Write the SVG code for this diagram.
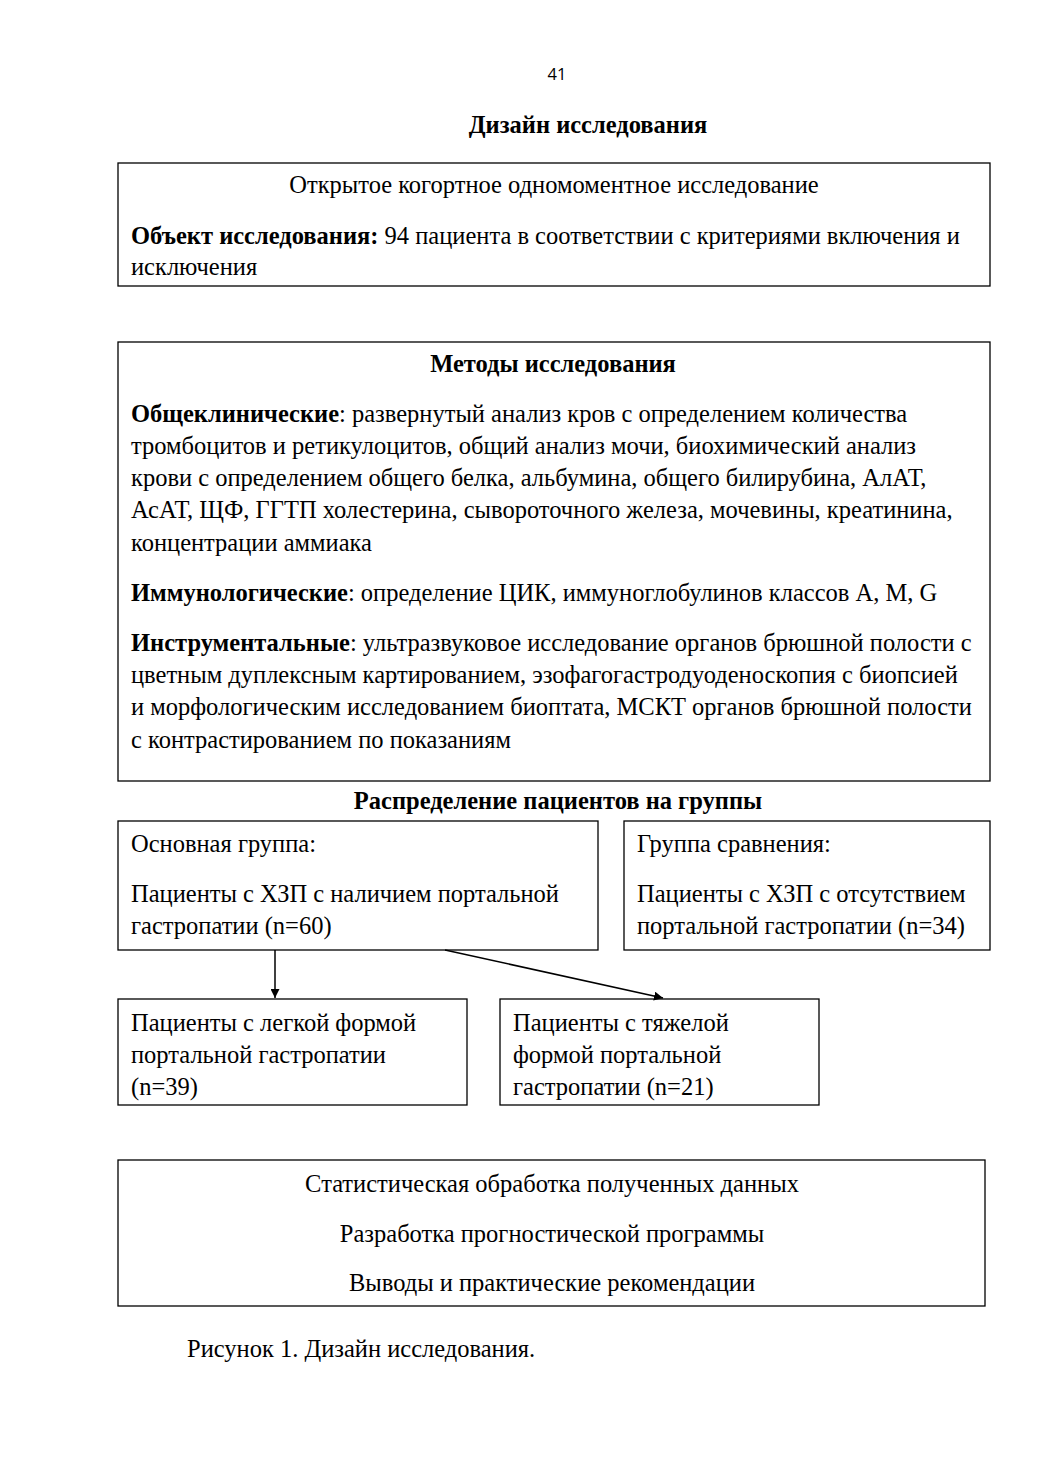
<svg xmlns="http://www.w3.org/2000/svg" width="1040" height="1471" viewBox="0 0 1040 1471">
<style>
.t{font-family:"Liberation Serif","Times New Roman",serif;font-size:24.5px;fill:#000}
.b{font-weight:bold}
.c{text-anchor:middle}
.box{fill:#fff;stroke:#000;stroke-width:1.3}
.ln{stroke:#000;stroke-width:1.5;fill:none}
</style>
<defs>
<marker id="ah" viewBox="0 0 10 10" refX="10" refY="5" markerWidth="9" markerHeight="9" markerUnits="userSpaceOnUse" orient="auto">
<path d="M0,0 L10,5 L0,10 z" fill="#000"/>
</marker>
</defs>
<rect width="1040" height="1471" fill="#fff"/>
<text x="557" y="80" font-family="Open Sans, sans-serif" font-size="16.5" text-anchor="middle">41</text>
<text class="t b c" x="588" y="133">Дизайн исследования</text>

<g id="study">
<rect class="box" x="118" y="163" width="872" height="123"/>
<text class="t c" x="554" y="193">Открытое когортное одномоментное исследование</text>
<text class="t" x="131" y="244"><tspan class="b">Объект исследования:</tspan> 94 пациента в соответствии с критериями включения и</text>
<text class="t" x="131" y="275">исключения</text>
</g>

<g id="methods">
<rect class="box" x="118" y="342" width="872" height="439"/>
<text class="t b c" x="553" y="372">Методы исследования</text>
<text class="t" x="131" y="422"><tspan class="b">Общеклинические</tspan>: развернутый анализ кров с определением количества</text>
<text class="t" x="131" y="454">тромбоцитов и ретикулоцитов, общий анализ мочи, биохимический анализ</text>
<text class="t" x="131" y="486">крови с определением общего белка, альбумина, общего билирубина, АлАТ,</text>
<text class="t" x="131" y="518">АсАТ, ЩФ, ГГТП холестерина, сывороточного железа, мочевины, креатинина,</text>
<text class="t" x="131" y="551">концентрации аммиака</text>
<text class="t" x="131" y="601"><tspan class="b">Иммунологические</tspan>: определение ЦИК, иммуноглобулинов классов А, М, G</text>
<text class="t" x="131" y="651"><tspan class="b">Инструментальные</tspan>: ультразвуковое исследование органов брюшной полости с</text>
<text class="t" x="131" y="683">цветным дуплексным картированием, эзофагогастродуоденоскопия с биопсией</text>
<text class="t" x="131" y="715">и морфологическим исследованием биоптата, МСКТ органов брюшной полости</text>
<text class="t" x="131" y="748">с контрастированием по показаниям</text>
</g>

<text class="t b c" x="558" y="809">Распределение пациентов на группы</text>

<g id="main-group">
<rect class="box" x="118" y="821" width="480" height="129"/>
<text class="t" x="131" y="852">Основная группа:</text>
<text class="t" x="131" y="902">Пациенты с ХЗП с наличием портальной</text>
<text class="t" x="131" y="934">гастропатии (n=60)</text>
</g>

<g id="comparison-group">
<rect class="box" x="624" y="821" width="366" height="129"/>
<text class="t" x="637" y="852">Группа сравнения:</text>
<text class="t" x="637" y="902">Пациенты с ХЗП с отсутствием</text>
<text class="t" x="637" y="934">портальной гастропатии (n=34)</text>
</g>

<g id="mild">
<rect class="box" x="118" y="999" width="349" height="106"/>
<text class="t" x="131" y="1031">Пациенты с легкой формой</text>
<text class="t" x="131" y="1063">портальной гастропатии</text>
<text class="t" x="131" y="1095">(n=39)</text>
</g>

<g id="severe">
<rect class="box" x="500" y="999" width="319" height="106"/>
<text class="t" x="513" y="1031">Пациенты с тяжелой</text>
<text class="t" x="513" y="1063">формой портальной</text>
<text class="t" x="513" y="1095">гастропатии (n=21)</text>
</g>

<g id="connectors">
<line class="ln" x1="275" y1="950" x2="275" y2="998" marker-end="url(#ah)"/>
<line class="ln" x1="445" y1="950" x2="663" y2="998" marker-end="url(#ah)"/>
</g>

<g id="outcome">
<rect class="box" x="118" y="1160" width="867" height="146"/>
<text class="t c" x="552" y="1192">Статистическая обработка полученных данных</text>
<text class="t c" x="552" y="1242">Разработка прогностической программы</text>
<text class="t c" x="552" y="1291">Выводы и практические рекомендации</text>
</g>

<text class="t" x="187" y="1357">Рисунок 1. Дизайн исследования.</text>
</svg>
